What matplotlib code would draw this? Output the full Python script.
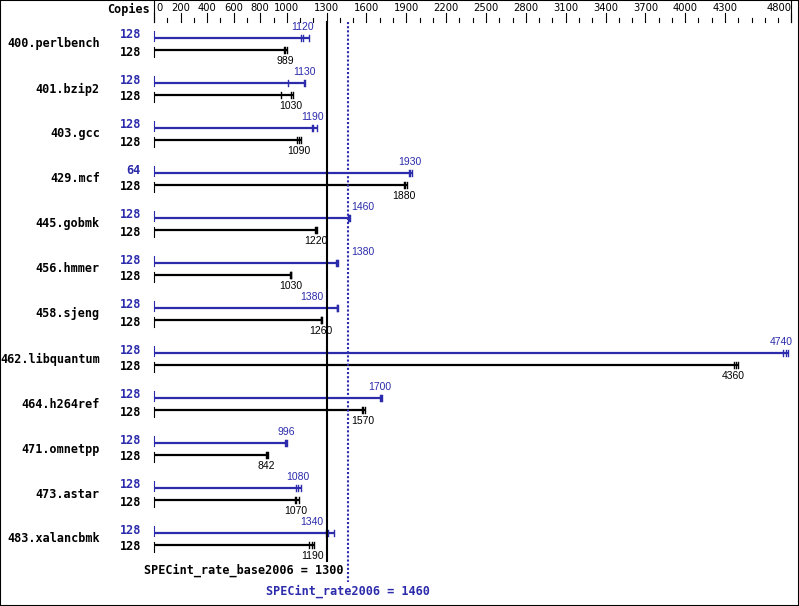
import numpy as np
import matplotlib.pyplot as plt
from matplotlib.patches import Rectangle

# SPECint_rate2006 per benchmark: peak (blue, top) and base (black, bottom)
benchmarks = ['400.perlbench', '401.bzip2', '403.gcc', '429.mcf', '445.gobmk', '456.hmmer',
              '458.sjeng', '462.libquantum', '464.h264ref', '471.omnetpp', '473.astar', '483.xalancbmk']
peak_copies = [128, 128, 128, 64, 128, 128, 128, 128, 128, 128, 128, 128]
base_copies = [128, 128, 128, 128, 128, 128, 128, 128, 128, 128, 128, 128]
peak = [1120, 1130, 1190, 1930, 1460, 1380, 1380, 4740, 1700, 996, 1080, 1340]
base = [989, 1030, 1090, 1880, 1220, 1030, 1260, 4360, 1570, 842, 1070, 1190]
# individual runs (tick marks)
peak_runs = [[1107, 1120, 1169], [1007, 1130, 1137], [1190, 1195, 1230], [1920, 1930, 1943],
             [1460, 1470, 1476], [1370, 1380, 1388], [1375, 1380, 1386], [4740, 4760, 4772],
             [1700, 1708, 1715], [990, 996, 1002], [1069, 1084, 1107], [1293, 1310, 1353]]
base_runs = [[977, 989, 1004], [954, 1030, 1044], [1079, 1090, 1105], [1880, 1888, 1903],
             [1212, 1220, 1230], [1025, 1030, 1032], [1255, 1260, 1265], [4370, 4383, 4395],
             [1570, 1576, 1589], [842, 848, 856], [1060, 1070, 1090], [1170, 1190, 1207]]
# where the value label sits: c=centred, l=left of base line, r=right of peak line, e=right edge
peak_label_pos = ['c', 'c', 'c', 'c', 'r', 'r', 'l', 'e', 'c', 'c', 'c', 'l']
base_label_pos = ['c', 'c', 'c', 'c', 'c', 'c', 'c', 'c', 'r', 'c', 'c', 'c']
base_score = 1300
peak_score = 1460
axis_labels = [0, 200, 400, 600, 800, 1000, 1300, 1600, 1900, 2200, 2500, 2800,
               3100, 3400, 3700, 4000, 4300, 4800]

blue = '#2b2bac'
S = 0.1328      # pixels per unit
PX = 1 / S      # units per pixel
x0 = 154        # pixel of value 0

mono = dict(family='DejaVu Sans Mono', fontweight='bold', fontsize=8.5)
small = dict(family=['Liberation Sans', 'DejaVu Sans'], fontsize=7.5)
narrow = dict(family=['Liberation Sans Narrow', 'DejaVu Sans'], fontsize=7.2)

fig = plt.figure(figsize=(7.99, 6.06), dpi=100)
ax = fig.add_axes([0, 0, 1, 1])
ax.set_xlim(-x0 * PX, (799 - x0) * PX)
ax.set_ylim(606, 0)
ax.axis('off')
ax.add_patch(Rectangle((0, 0), 1, 1, transform=ax.transAxes, fill=False,
                       ec='black', lw=1.5, clip_on=False))

# top scale
for t in range(0, 4801, 100):
    major = t in axis_labels
    ax.plot([t, t], [13 if major else 18, 22], color='black', lw=0.8)
ax.plot([0, 0], [0, 22], color='black', lw=0.8)
ax.plot([4800, 4800], [0, 22], color='black', lw=0.8)
for t in axis_labels:
    if t == 0:
        ax.text(t + 2 * PX, 8, str(t), ha='left', va='center', **narrow)
    elif t == 4800:
        ax.text(t, 8, str(t), ha='right', va='center', **narrow)
    else:
        ax.text(t, 8, str(t), ha='center', va='center', **narrow)
ax.text(-4 * PX, 9, 'Copies', ha='right', va='center', **mono)


def label_x(v, pos):
    if pos == 'l':
        return base_score - 3 * PX, 'right'
    if pos == 'r':
        return peak_score + 3 * PX, 'left'
    if pos == 'e':
        return 4800 + 1 * PX, 'right'
    return v, 'center'


for i, name in enumerate(benchmarks):
    yb = 38 + 45 * i
    yk = yb + 12
    ax.text(-54 * PX, yb + 6, name, ha='right', va='center', **mono)
    ax.text(-13 * PX, yb - 3, str(peak_copies[i]), ha='right', va='center', color=blue, **mono)
    ax.text(-13 * PX, yk + 2, str(base_copies[i]), ha='right', va='center', color='black', **mono)

    for runs, y, col, start in [(peak_runs[i], yb, blue, (-7, 3)), (base_runs[i], yk, 'black', (-3, 7))]:
        ax.plot([0, max(runs)], [y, y], color=col, lw=1.6, solid_capstyle='butt')
        ax.plot([0, 0], [y + start[0], y + start[1]], color=col, lw=0.8)
        for r in runs:
            ax.plot([r, r], [y - 3, y + 3], color=col, lw=1.0)

    x, ha = label_x(peak[i], peak_label_pos[i])
    ax.text(x, yb - 11, str(peak[i]), ha=ha, va='center', color=blue, **small)
    x, ha = label_x(base[i], base_label_pos[i])
    ax.text(x, yk + 11, str(base[i]), ha=ha, va='center', color='black', **small)

# overall scores
ax.plot([base_score, base_score], [22, 561], color='black', lw=1.5, zorder=5)
ax.plot([peak_score, peak_score], [22, 582], color=blue, lw=1.5, ls=(0, (1, 1)), zorder=5)
ax.text(base_score + 17 * PX, 570, 'SPECint_rate_base2006 = %d' % base_score,
        ha='right', va='center', color='black', **mono)
ax.text(peak_score, 591, 'SPECint_rate2006 = %d' % peak_score,
        ha='center', va='center', color=blue, **mono)

fig.savefig('out.png', dpi=100)
